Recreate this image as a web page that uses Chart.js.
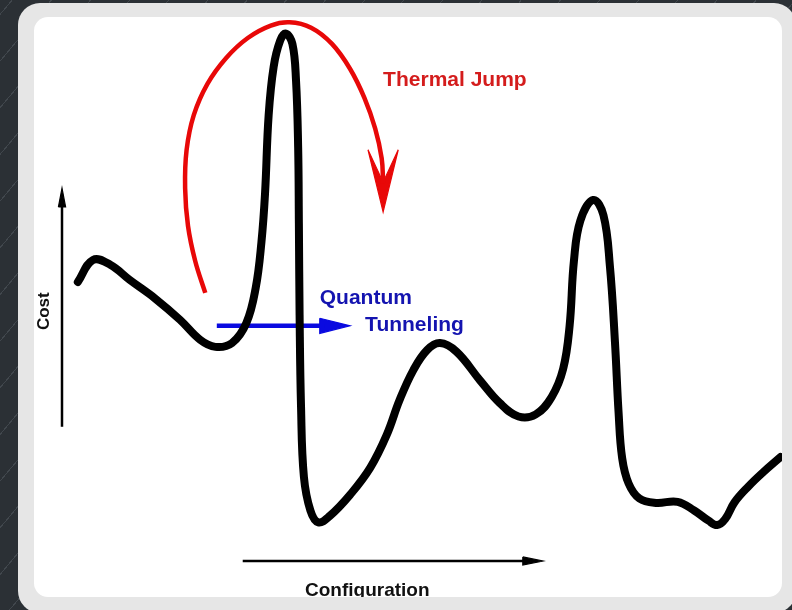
<!DOCTYPE html>
<html>
<head>
<meta charset="utf-8">
<script src="https://cdn.jsdelivr.net/npm/chart.js@4/dist/chart.umd.min.js"></script>
<style>
  html, body { margin: 0; padding: 0; }
  body {
    width: 792px; height: 610px; overflow: hidden; position: relative;
    background-color: #2b3035;
    background-image: repeating-linear-gradient(-50deg, #2b3035 0px, #2b3035 29px, #41474d 29px, #41474d 30px);
  }
  #frame {
    position: absolute; left: 18px; top: 3px; width: 778px; height: 610px;
    background: #e6e6e6; border-radius: 22px;
  }
  #panel {
    position: absolute; left: 34px; top: 17px; width: 748px; height: 580px;
    background: #fff; border-radius: 14px; overflow: hidden;
  }
  #panel canvas { position: absolute; left: -34px; top: -17px; }
</style>
</head>
<body>
<div id="frame"></div>
<div id="panel"><canvas id="landscape" width="792" height="610"></canvas></div>
<script>
// configuration (0-100) vs cost (0-100)
const costX = [2.2, 4.3, 6.7, 9.4, 12.9, 16.4, 19.2, 21.3, 23.6, 25.6, 26.9, 27.7, 28.2, 28.7, 29.4, 30.3, 31.1, 32.0, 32.5, 32.8, 32.9, 33.0, 33.2, 33.6, 34.5, 35.6, 37.2, 40.0, 42.8, 45.1, 46.9, 48.8, 50.7, 52.5, 54.8, 58.0, 60.8, 63.4, 65.8, 68.0, 69.6, 70.5, 71.1, 72.0, 73.8, 75.2, 76.1, 76.8, 77.3, 77.8, 78.7, 80.2, 82.5, 85.5, 87.8, 89.8, 91.0, 92.1, 93.4, 95.3, 97.4, 99.8];
const costY = [51.1, 55.2, 54.3, 51.5, 48.1, 44.1, 40.4, 39.1, 39.8, 43.5, 50.0, 58.5, 67.5, 82.0, 91.0, 95.8, 97.1, 95.2, 88.5, 76.0, 62.0, 45.0, 28.0, 15.0, 8.8, 6.6, 7.8, 11.7, 16.7, 22.8, 29.3, 34.8, 38.5, 39.8, 38.2, 33.0, 28.7, 26.2, 26.6, 29.8, 35.0, 43.0, 55.0, 62.5, 66.3, 63.5, 54.0, 40.0, 27.0, 18.5, 13.8, 11.0, 10.2, 10.4, 8.8, 6.9, 6.1, 7.2, 10.3, 13.2, 15.9, 18.7];

const thermalX = [19.9, 18.5, 17.5, 17.1, 17.3, 18.3, 20.2, 22.8, 25.8, 29.0, 31.6, 34.6, 37.5, 40.0, 42.0, 43.5, 44.4, 44.6];
const thermalY = [49.1, 55.0, 61.5, 68.5, 75.5, 82.0, 87.8, 92.6, 96.3, 98.6, 99.2, 98.2, 95.2, 90.6, 85.2, 79.5, 74.0, 69.4];
const thermalHeadX = [42.5, 44.6, 46.7, 44.6, 42.5];
const thermalHeadY = [75.6, 64.1, 75.6, 69.6, 75.6];

const tunnelX = [21.5, 36.5];
const tunnelY = [43.0, 43.0];
const tunnelHeadX = [35.8, 40.0, 35.8, 35.8];
const tunnelHeadY = [44.4, 43.0, 41.6, 44.4];

const costAxisX = [0, 0];
const costAxisY = [24.3, 65.5];
const costAxisHeadX = [-0.5, 0, 0.5, -0.5];
const costAxisHeadY = [65.0, 68.5, 65.0, 65.0];
const configAxisX = [25.1, 64.3];
const configAxisY = [-0.55, -0.55];
const configAxisHeadX = [64.0, 66.8, 64.0, 64.0];
const configAxisHeadY = [0.2, -0.55, -1.3, 0.2];

const labelText = ['Thermal Jump', 'Quantum', 'Tunneling', 'Cost', 'Configuration'];
const labelX = [44.6, 35.8, 42.1, -2.5, 42.4];
const labelY = [87.4, 47.0, 42.0, 45.7, -7.0];

const pts = (xs, ys) => xs.map((x, i) => ({ x: x, y: ys[i] }));

const line = (xs, ys, color, width, extra) => Object.assign({
  data: pts(xs, ys),
  borderColor: color,
  borderWidth: width,
  pointRadius: 0,
  tension: 0,
  fill: false,
  clip: false,
  borderCapStyle: 'butt',
}, extra || {});

const head = (xs, ys, color) => line(xs, ys, color, 1.2, { fill: 'shape', backgroundColor: color, borderJoinStyle: 'miter' });

const labelStyle = [
  { color: '#d41c1c', font: 'bold 21px "Liberation Sans", Arial, sans-serif', align: 'left', rot: 0 },
  { color: '#1414b0', font: 'bold 21px "Liberation Sans", Arial, sans-serif', align: 'left', rot: 0 },
  { color: '#1414b0', font: 'bold 21px "Liberation Sans", Arial, sans-serif', align: 'left', rot: 0 },
  { color: '#111', font: 'bold 17px "Liberation Sans", Arial, sans-serif', align: 'center', rot: -Math.PI / 2 },
  { color: '#111', font: 'bold 19px "Liberation Sans", Arial, sans-serif', align: 'center', rot: 0 },
];

const textPlugin = {
  id: 'texts',
  afterDatasetsDraw(chart) {
    const ctx = chart.ctx;
    const sx = chart.scales.x, sy = chart.scales.y;
    labelText.forEach((t, i) => {
      const st = labelStyle[i];
      ctx.save();
      ctx.translate(sx.getPixelForValue(labelX[i]), sy.getPixelForValue(labelY[i]));
      ctx.rotate(st.rot);
      ctx.font = st.font;
      ctx.fillStyle = st.color;
      ctx.textAlign = st.align;
      ctx.textBaseline = st.rot ? 'middle' : 'alphabetic';
      ctx.fillText(t, 0, 0);
      ctx.restore();
    });
  }
};

new Chart(document.getElementById('landscape'), {
  type: 'line',
  data: {
    datasets: [
      line(costAxisX, costAxisY, '#000', 2.5),
      head(costAxisHeadX, costAxisHeadY, '#000'),
      line(configAxisX, configAxisY, '#000', 2.5),
      head(configAxisHeadX, configAxisHeadY, '#000'),
      line(costX, costY, '#000', 8, { tension: 0.4, borderCapStyle: 'round', borderJoinStyle: 'round' }),
      line(thermalX, thermalY, '#e80808', 4.5, { tension: 0.4 }),
      head(thermalHeadX, thermalHeadY, '#e80808'),
      line(tunnelX, tunnelY, '#0a0ae0', 4.5),
      head(tunnelHeadX, tunnelHeadY, '#0a0ae0'),
    ]
  },
  options: {
    responsive: false,
    animation: false,
    devicePixelRatio: 1,
    layout: { padding: { left: 26, right: 10, top: 18, bottom: 25 } },
    elements: { line: { capBezierPoints: false } },
    scales: {
      x: { type: 'linear', min: -5, max: 100, display: false },
      y: { type: 'linear', min: -5, max: 100, display: false },
    },
    plugins: { legend: { display: false }, tooltip: { enabled: false } },
  },
  plugins: [textPlugin],
});
</script>
</body>
</html>
